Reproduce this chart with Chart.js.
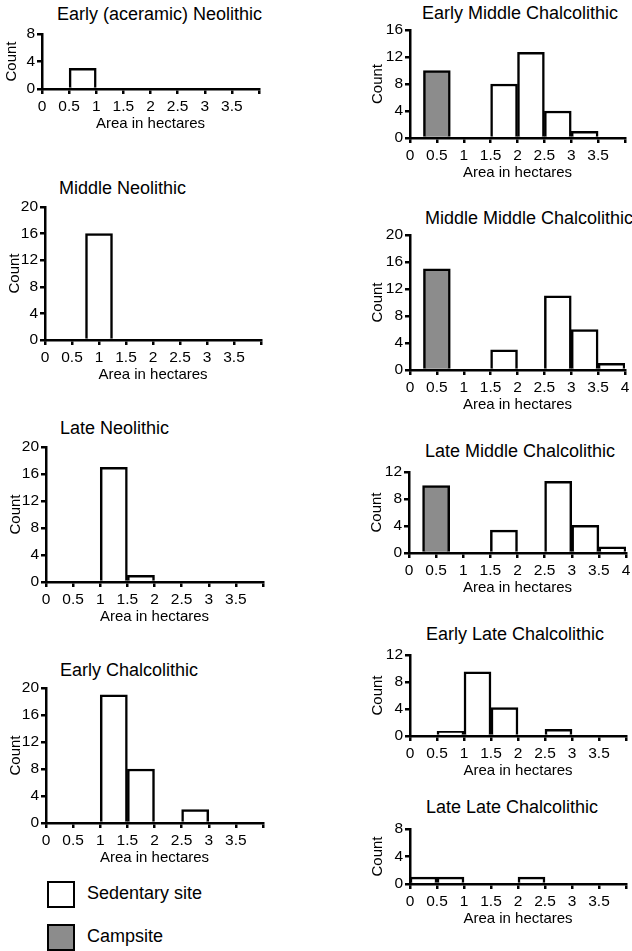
<!DOCTYPE html>
<html>
<head>
<meta charset="utf-8">
<title>Site area histograms</title>
<script src="https://cdn.jsdelivr.net/npm/chart.js@4.4.1/dist/chart.umd.min.js"></script>
<style>
  html, body { margin: 0; padding: 0; background: #fff; }
  body {
    position: relative;
    width: 632px;
    height: 951px;
    overflow: hidden;
    font-family: "Liberation Sans", Arial, Helvetica, sans-serif;
    color: #000;
  }
  canvas { position: absolute; }
  .panel-title {
    position: absolute;
    font-size: 18px;
    line-height: 20px;
    white-space: nowrap;
  }
  .key {
    position: absolute;
    left: 47px;
    width: 28px;
    height: 27px;
    box-sizing: border-box;
    border: 2.5px solid #000;
  }
  .key--sedentary { top: 881px; background: #fff; }
  .key--campsite { top: 924px; background: #8c8c8c; }
  .key-label {
    position: absolute;
    left: 87px;
    font-size: 18px;
    line-height: 22px;
    white-space: nowrap;
  }
</style>
</head>
<body>
<div class="key key--sedentary"></div>
<div class="key-label" style="top:882px">Sedentary site</div>
<div class="key key--campsite"></div>
<div class="key-label" style="top:925px">Campsite</div>

<script>
(function () {
  "use strict";

  // bins are [bin centre in hectares, count]
  var earlyAceramicNeolithic = [[0.75, 3]];
  var middleNeolithic = [[1, 16]];
  var lateNeolithic = [[1.25, 17], [1.75, 1]];
  var earlyChalcolithic = [[1.25, 19], [1.75, 8], [2.75, 2]];

  var earlyMiddleChalcCamp = [[0.5, 10]];
  var earlyMiddleChalcSed = [[1.75, 8], [2.25, 12.7], [2.75, 4], [3.25, 1]];
  var middleMiddleChalcCamp = [[0.5, 15]];
  var middleMiddleChalcSed = [[1.75, 3], [2.75, 11], [3.25, 6], [3.75, 1]];
  var lateMiddleChalcCamp = [[0.5, 10]];
  var lateMiddleChalcSed = [[1.75, 3.4], [2.75, 10.6], [3.25, 4.1], [3.75, 0.9]];
  var earlyLateChalc = [[0.75, 0.7], [1.25, 9.5], [1.75, 4.2], [2.75, 1]];
  var lateLateChalc = [[0.25, 1], [0.75, 1], [2.25, 1]];

  var xMax = 4;
  var xStep = 0.5;
  var yStep = 4;

  var FONT = '"Liberation Sans", Arial, Helvetica, sans-serif';
  var Y_AXIS_W = 45;
  var X_AXIS_H = 46;
  var PAD_TOP = 12;
  var PAD_RIGHT = 12;

  Chart.defaults.font.family = FONT;
  Chart.defaults.color = "#000";

  // box = [plot left, plot right, plot top, plot bottom] in page px
  var panels = [
    { title: "Early (aceramic) Neolithic", sed: earlyAceramicNeolithic, camp: [], yMax: 8,
      box: [42, 259, 34, 89], tx: 57, ty: 13.8, countGap: 30, four: false },
    { title: "Middle Neolithic", sed: middleNeolithic, camp: [], yMax: 20,
      box: [45, 261, 207, 340], tx: 59, ty: 188, countGap: 30, four: false },
    { title: "Late Neolithic", sed: lateNeolithic, camp: [], yMax: 20,
      box: [46, 263, 447, 582], tx: 60, ty: 428, countGap: 30, four: false },
    { title: "Early Chalcolithic", sed: earlyChalcolithic, camp: [], yMax: 20,
      box: [46, 263, 688, 823], tx: 60, ty: 669.5, countGap: 30, four: false },
    { title: "Early Middle Chalcolithic", sed: earlyMiddleChalcSed, camp: earlyMiddleChalcCamp, yMax: 16,
      box: [410, 625, 30, 138], tx: 422, ty: 12.5, countGap: 32, four: false },
    { title: "Middle Middle Chalcolithic", sed: middleMiddleChalcSed, camp: middleMiddleChalcCamp, yMax: 20,
      box: [410, 625, 235, 370], tx: 425, ty: 218, countGap: 32, four: true },
    { title: "Late Middle Chalcolithic", sed: lateMiddleChalcSed, camp: lateMiddleChalcCamp, yMax: 12,
      box: [409, 626, 472, 553], tx: 425, ty: 451, countGap: 32, four: true },
    { title: "Early Late Chalcolithic", sed: earlyLateChalc, camp: [], yMax: 12,
      box: [410, 626, 655, 736], tx: 426, ty: 633.7, countGap: 32, four: false },
    { title: "Late Late Chalcolithic", sed: lateLateChalc, camp: [], yMax: 8,
      box: [410, 626, 829, 884], tx: 426, ty: 806.5, countGap: 32, four: false }
  ];

  function toPoints(pairs) {
    return pairs.map(function (p) { return { x: p[0], y: p[1] }; });
  }

  function axisGrid() {
    return {
      display: true,
      drawOnChartArea: false,
      drawTicks: true,
      tickLength: 5,
      color: "#000",
      lineWidth: 2.5,
      offset: false
    };
  }

  function mkPanel(p) {
    var left = p.box[0], right = p.box[1], top = p.box[2], bottom = p.box[3];

    var head = document.createElement("div");
    head.className = "panel-title";
    head.textContent = p.title;
    head.style.left = p.tx + "px";
    head.style.top = (p.ty - 9.6) + "px";
    document.body.appendChild(head);

    var canvas = document.createElement("canvas");
    var w = (right - left) + Y_AXIS_W + PAD_RIGHT;
    var h = (bottom - top) + PAD_TOP + X_AXIS_H;
    canvas.width = w;
    canvas.height = h;
    canvas.style.width = w + "px";
    canvas.style.height = h + "px";
    canvas.style.left = (left - Y_AXIS_W) + "px";
    canvas.style.top = (top - PAD_TOP) + "px";
    document.body.appendChild(canvas);

    return new Chart(canvas, {
      type: "bar",
      data: {
        datasets: [
          {
            label: "Sedentary site",
            data: toPoints(p.sed),
            backgroundColor: "#fff",
            borderColor: "#000",
            borderWidth: 2.5
          },
          {
            label: "Campsite",
            data: toPoints(p.camp),
            backgroundColor: "#8c8c8c",
            borderColor: "#000",
            borderWidth: 2.5
          }
        ]
      },
      options: {
        responsive: false,
        animation: false,
        events: [],
        layout: { padding: { top: PAD_TOP, right: PAD_RIGHT, left: 0, bottom: 0 } },
        datasets: { bar: { grouped: false, barPercentage: 1, categoryPercentage: 1 } },
        plugins: {
          legend: { display: false },
          tooltip: { enabled: false },
          title: { display: false }
        },
        scales: {
          x: {
            type: "linear",
            min: 0,
            max: xMax,
            offset: false,
            grid: axisGrid(),
            border: { display: true, color: "#000", width: 2.5 },
            ticks: {
              stepSize: xStep,
              autoSkip: false,
              maxRotation: 0,
              padding: 3,
              color: "#000",
              font: { size: 15.5 },
              callback: function (v) {
                if (v === xMax && !p.four) return "";
                return String(v);
              }
            },
            title: {
              display: true,
              text: "Area in hectares",
              color: "#000",
              font: { size: 15 },
              padding: { top: 0, bottom: 2 }
            },
            afterFit: function (s) { s.height = X_AXIS_H; }
          },
          y: {
            min: 0,
            max: p.yMax,
            grid: axisGrid(),
            border: { display: true, color: "#000", width: 2.5 },
            ticks: {
              stepSize: yStep,
              padding: 2,
              color: "#000",
              font: { size: 15.5 },
              callback: function (v) { return String(v); }
            },
            title: {
              display: true,
              text: "Count",
              color: "#000",
              font: { size: 15 },
              padding: { top: Y_AXIS_W - p.countGap - 9, bottom: 0 }
            },
            afterFit: function (s) { s.width = Y_AXIS_W; }
          }
        }
      }
    });
  }

  panels.forEach(mkPanel);
})();
</script>
</body>
</html>
